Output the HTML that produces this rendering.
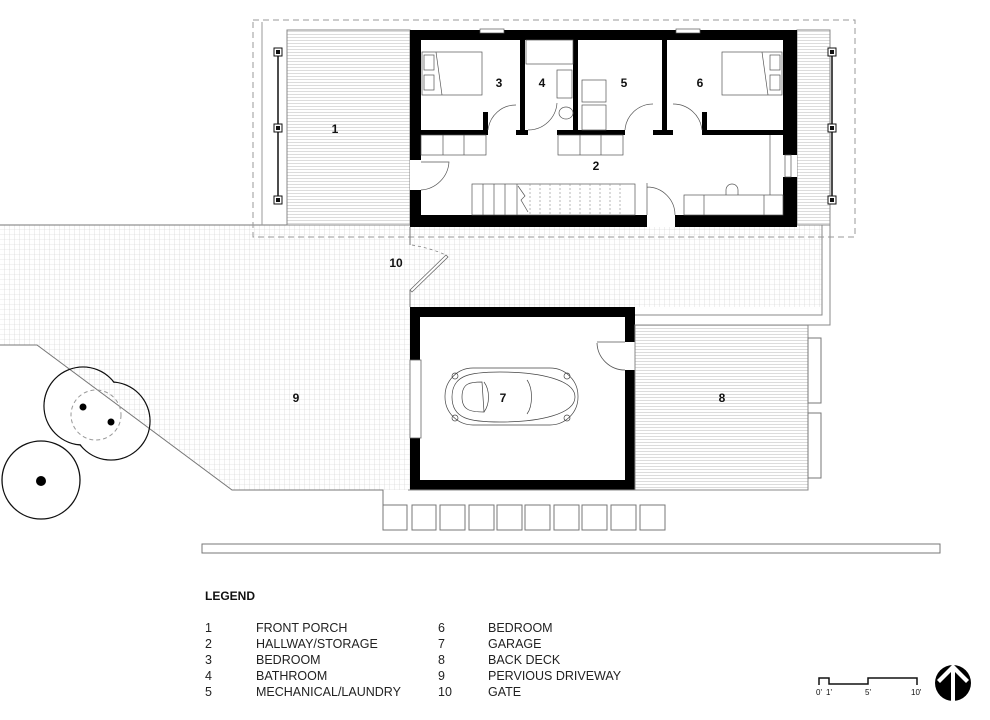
<!DOCTYPE html>
<html><head><meta charset="utf-8"><style>
body{margin:0;background:#fff}
svg{display:block}
text{font-family:"Liberation Sans",sans-serif;fill:#111}
.lbl{font-size:12px;font-weight:bold;text-anchor:middle}
.lg{font-size:12.5px;fill:#222}
</style></head><body>
<svg width="990" height="720" viewBox="0 0 990 720" xmlns="http://www.w3.org/2000/svg">
<defs>
<pattern id="grid" width="5" height="5" patternUnits="userSpaceOnUse">
<path d="M5 0V5H0" fill="none" stroke="#cfcfcf" stroke-width="0.6"/>
</pattern>
<pattern id="hatch" width="4" height="3" patternUnits="userSpaceOnUse">
<path d="M0 1.5H4" stroke="#cdcdcd" stroke-width="0.7"/>
</pattern>
<mask id="tm">
<rect x="0" y="0" width="200" height="600" fill="#fff"/>
<circle cx="83" cy="406" r="38.3" fill="#000"/>
<circle cx="111" cy="421" r="38.3" fill="#000"/>
</mask>
</defs>

<!-- driveway grid -->
<polygon points="0,225 822,225 822,307 410,307 410,490 383,490 232,490 37,345 0,345" fill="url(#grid)" stroke="none"/>
<polyline points="0,345 37,345 232,490 383,490 383,505" fill="none" stroke="#777" stroke-width="1"/>
<polyline points="822,225 822,315 635,315" fill="none" stroke="#888" stroke-width="1"/>
<polyline points="830,225 830,325 635,325" fill="none" stroke="#888" stroke-width="1"/>
<line x1="0" y1="225" x2="410" y2="225" stroke="#777"/>

<!-- porches -->
<rect x="287" y="30" width="123" height="195" fill="url(#hatch)" stroke="#888" stroke-width="1"/>
<rect x="797" y="30" width="33" height="195" fill="url(#hatch)" stroke="#888" stroke-width="1"/>
<rect x="253" y="20" width="602" height="217" fill="none" stroke="#999" stroke-dasharray="6,4" stroke-width="1"/>
<line x1="262" y1="22" x2="262" y2="225" stroke="#999"/>
<g stroke="#111" fill="#fff">
<line x1="278" y1="52" x2="278" y2="200" stroke-width="1.5"/>
<line x1="832" y1="52" x2="832" y2="200" stroke-width="1.5"/>
<rect x="274" y="48" width="8" height="8"/><rect x="274" y="124" width="8" height="8"/><rect x="274" y="196" width="8" height="8"/>
<rect x="828" y="48" width="8" height="8"/><rect x="828" y="124" width="8" height="8"/><rect x="828" y="196" width="8" height="8"/>
</g>
<g fill="#111"><rect x="276" y="50" width="4" height="4"/><rect x="276" y="126" width="4" height="4"/><rect x="276" y="198" width="4" height="4"/>
<rect x="830" y="50" width="4" height="4"/><rect x="830" y="126" width="4" height="4"/><rect x="830" y="198" width="4" height="4"/></g>

<!-- house -->
<rect x="410" y="30" width="387" height="197" fill="#fff"/>
<g fill="#000">
<rect x="410" y="30" width="387" height="10"/>
<rect x="410" y="215" width="237" height="12"/>
<rect x="675" y="215" width="122" height="12"/>
<rect x="410" y="30" width="11" height="130"/>
<rect x="410" y="190" width="11" height="37"/>
<rect x="783" y="30" width="14" height="125"/>
<rect x="783" y="177" width="14" height="50"/>
<rect x="520" y="38" width="5" height="97"/>
<rect x="573" y="38" width="5" height="97"/>
<rect x="662" y="38" width="5" height="97"/>
<rect x="421" y="130" width="67" height="5"/>
<rect x="483" y="112" width="5" height="23"/>
<rect x="516" y="130" width="12" height="5"/>
<rect x="557" y="130" width="68" height="5"/>
<rect x="653" y="130" width="20" height="5"/>
<rect x="702" y="130" width="81" height="5"/>
<rect x="702" y="112" width="5" height="23"/>
</g>
<rect x="480" y="29" width="24" height="4" fill="#fff" stroke="#555" stroke-width="0.7"/>
<rect x="676" y="29" width="24" height="4" fill="#fff" stroke="#555" stroke-width="0.7"/>
<rect x="785" y="155" width="6" height="22" fill="#fff" stroke="#555" stroke-width="0.7"/>
<g fill="none" stroke="#555" stroke-width="0.7">
<path d="M488 130 A28 28 0 0 1 516 105"/><path d="M528 130 A29 29 0 0 0 557 103"/>
<path d="M625 130 A28 28 0 0 1 653 104"/><path d="M673 104 A29 29 0 0 1 702 130"/>
<path d="M421 190 A30 30 0 0 0 449 162 L421 162"/>
<path d="M647 183 V215 M647 187 A28 28 0 0 1 675 215"/>
<rect x="422" y="52" width="60" height="43"/><rect x="424" y="55" width="10" height="15"/><rect x="424" y="75" width="10" height="15"/><path d="M436 52 L442 95"/>
<rect x="722" y="52" width="60" height="43"/><rect x="770" y="55" width="10" height="15"/><rect x="770" y="75" width="10" height="15"/><path d="M762 52 L768 95"/>
<rect x="421" y="135" width="65" height="20"/><line x1="443" y1="135" x2="443" y2="155"/><line x1="464" y1="135" x2="464" y2="155"/>
<rect x="558" y="135" width="65" height="20"/><line x1="580" y1="135" x2="580" y2="155"/><line x1="601" y1="135" x2="601" y2="155"/>
<rect x="526" y="40" width="47" height="24"/><rect x="557" y="70" width="15" height="28"/><ellipse cx="566" cy="113" rx="7" ry="6"/>
<rect x="582" y="80" width="24" height="22"/><rect x="582" y="105" width="24" height="25"/>
<rect x="472" y="184" width="163" height="31"/>
<g stroke="#999" stroke-dasharray="2,2"><line x1="530" y1="184" x2="530" y2="215"/><line x1="540" y1="184" x2="540" y2="215"/><line x1="550" y1="184" x2="550" y2="215"/><line x1="560" y1="184" x2="560" y2="215"/><line x1="570" y1="184" x2="570" y2="215"/><line x1="580" y1="184" x2="580" y2="215"/><line x1="590" y1="184" x2="590" y2="215"/><line x1="600" y1="184" x2="600" y2="215"/><line x1="610" y1="184" x2="610" y2="215"/><line x1="620" y1="184" x2="620" y2="215"/></g>
<line x1="483" y1="184" x2="483" y2="215"/><line x1="494" y1="184" x2="494" y2="215"/><line x1="505" y1="184" x2="505" y2="215"/><line x1="517" y1="184" x2="517" y2="215"/>
<path d="M518 186 L525 196 L521 200 L528 212"/>
<rect x="684" y="195" width="99" height="20"/><line x1="704" y1="195" x2="704" y2="215"/><line x1="764" y1="195" x2="764" y2="215"/><path d="M726 195 V190 A6 6 0 0 1 738 190 V195"/>
<line x1="770" y1="135" x2="770" y2="195"/>
</g>

<!-- gate -->
<line x1="410" y1="227" x2="410" y2="245" stroke="#777"/>
<line x1="410" y1="290" x2="410" y2="307" stroke="#777"/>
<path d="M410 290 L446 255 L448 257 L412 292Z" fill="#fff" stroke="#666" stroke-width="0.8"/>
<path d="M412 245 Q430 248 446 255" fill="none" stroke="#777" stroke-dasharray="3,3" stroke-width="0.7"/>

<!-- garage -->
<rect x="410" y="307" width="225" height="183" fill="#fff"/>
<g fill="#000">
<rect x="410" y="307" width="225" height="10"/>
<rect x="410" y="480" width="225" height="10"/>
<rect x="410" y="307" width="10" height="183"/>
<rect x="625" y="307" width="10" height="35"/>
<rect x="625" y="370" width="10" height="120"/>
</g>
<rect x="410" y="360" width="11" height="78" fill="#fff" stroke="#666" stroke-width="0.8"/>
<path d="M597 342 H625 M597 343 A28 28 0 0 0 625 370" fill="none" stroke="#555" stroke-width="0.8"/>
<g fill="none" stroke="#444" stroke-width="0.7">
<rect x="445" y="368" width="133" height="57" rx="28"/>
<path d="M452 397 C452 375 470 372 500 372 C540 372 575 380 575 397 C575 414 540 422 500 422 C470 422 452 419 452 397Z"/>
<path d="M462 397 C462 383 470 382 482 382 L484 412 C470 412 462 410 462 397Z"/>
<path d="M527 380 C533 388 533 406 527 414"/><path d="M484 382 C490 390 490 404 484 412"/>
<circle cx="455" cy="376" r="3"/><circle cx="455" cy="418" r="3"/><circle cx="567" cy="376" r="3"/><circle cx="567" cy="418" r="3"/>
</g>

<!-- back deck -->
<rect x="635" y="325" width="173" height="165" fill="url(#hatch)" stroke="#888" stroke-width="1"/>
<rect x="808" y="338" width="13" height="65" fill="#fff" stroke="#777"/>
<rect x="808" y="413" width="13" height="65" fill="#fff" stroke="#777"/>
<line x1="408" y1="490" x2="808" y2="490" stroke="#888"/>
<g fill="#fff" stroke="#777" stroke-width="1">
<rect x="383" y="505" width="24" height="25"/><rect x="412" y="505" width="24" height="25"/><rect x="440" y="505" width="25" height="25"/><rect x="469" y="505" width="25" height="25"/><rect x="497" y="505" width="25" height="25"/><rect x="525" y="505" width="25" height="25"/><rect x="554" y="505" width="25" height="25"/><rect x="582" y="505" width="25" height="25"/><rect x="611" y="505" width="25" height="25"/><rect x="640" y="505" width="25" height="25"/>
</g>
<rect x="202" y="544" width="738" height="9" fill="#fff" stroke="#777"/>

<!-- trees -->
<g fill="none" stroke="#111" stroke-width="1.3" mask="url(#tm)">
<circle cx="83" cy="406" r="39"/>
<circle cx="111" cy="421" r="39"/>
</g>
<circle cx="41" cy="480" r="39" fill="none" stroke="#111" stroke-width="1.3"/>
<circle cx="96" cy="415" r="25" fill="none" stroke="#999" stroke-dasharray="4,3"/>
<circle cx="83" cy="407" r="3.5"/><circle cx="111" cy="422" r="3.5"/><circle cx="41" cy="481" r="5"/>

<!-- labels -->
<text class="lbl" x="335" y="133">1</text>
<text class="lbl" x="596" y="170">2</text>
<text class="lbl" x="499" y="87">3</text>
<text class="lbl" x="542" y="87">4</text>
<text class="lbl" x="624" y="87">5</text>
<text class="lbl" x="700" y="87">6</text>
<text class="lbl" x="503" y="402">7</text>
<text class="lbl" x="722" y="402">8</text>
<text class="lbl" x="296" y="402">9</text>
<text class="lbl" x="396" y="267">10</text>

<text x="205" y="600" style="font-size:12px;font-weight:bold">LEGEND</text>
<text class="lg" x="205" y="632">1</text><text class="lg" x="256" y="632">FRONT PORCH</text>
<text class="lg" x="205" y="648">2</text><text class="lg" x="256" y="648">HALLWAY/STORAGE</text>
<text class="lg" x="205" y="664">3</text><text class="lg" x="256" y="664">BEDROOM</text>
<text class="lg" x="205" y="680">4</text><text class="lg" x="256" y="680">BATHROOM</text>
<text class="lg" x="205" y="696">5</text><text class="lg" x="256" y="696">MECHANICAL/LAUNDRY</text>
<text class="lg" x="438" y="632">6</text><text class="lg" x="488" y="632">BEDROOM</text>
<text class="lg" x="438" y="648">7</text><text class="lg" x="488" y="648">GARAGE</text>
<text class="lg" x="438" y="664">8</text><text class="lg" x="488" y="664">BACK DECK</text>
<text class="lg" x="438" y="680">9</text><text class="lg" x="488" y="680">PERVIOUS DRIVEWAY</text>
<text class="lg" x="438" y="696">10</text><text class="lg" x="488" y="696">GATE</text>

<polyline points="819,685 819,678 829,678 829,684 868,684 868,678 917,678 917,685" fill="none" stroke="#111" stroke-width="1.5"/>
<g style="font-size:8px"><text x="816" y="695">0'</text><text x="826" y="695">1'</text><text x="865" y="695">5'</text><text x="911" y="695">10'</text></g>
<circle cx="953" cy="683" r="18" fill="#000"/>
<path d="M953 664 L937 680 L940 683 L951 672 V702 H955 V672 L966 683 L969 680Z" fill="#fff"/>
</svg>
</body></html>
